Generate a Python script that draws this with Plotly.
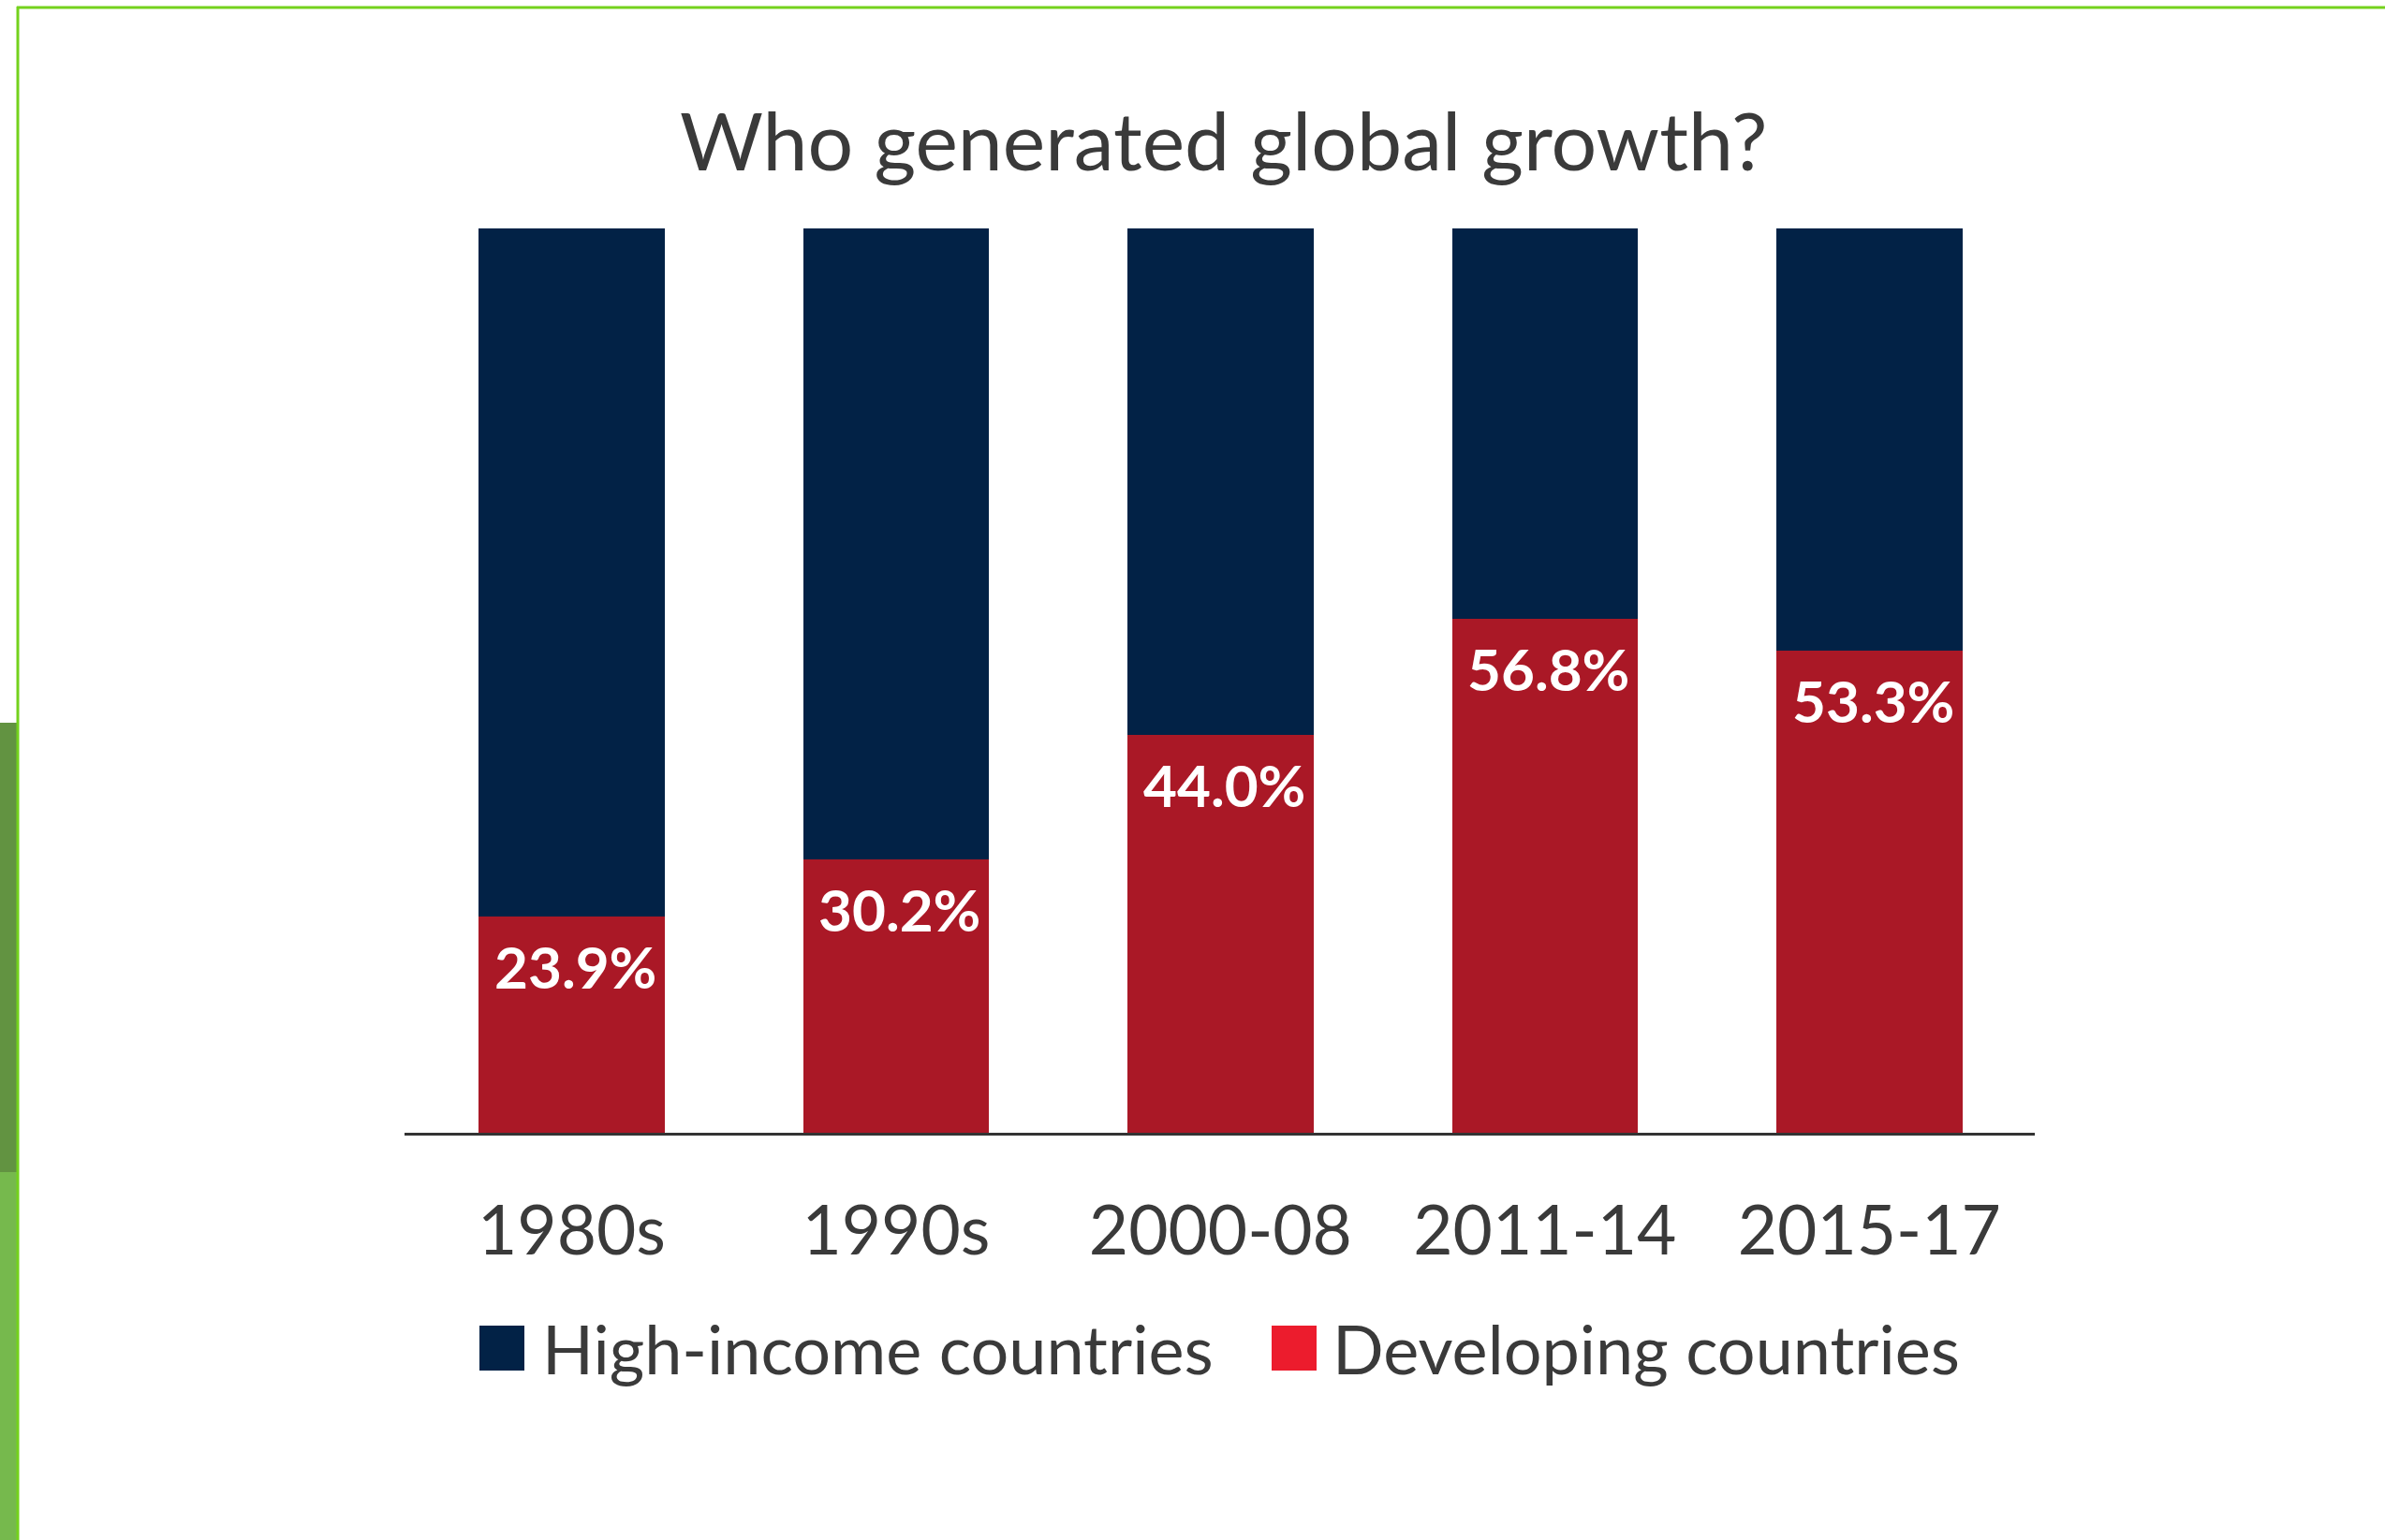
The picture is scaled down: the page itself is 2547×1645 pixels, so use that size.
import plotly.graph_objects as go

# Share of global growth by period (percent)
periods = ["1980s", "1990s", "2000-08", "2011-14", "2015-17"]
developing = [23.9, 30.2, 44.0, 56.8, 53.3]
high_income = [round(100 - v, 1) for v in developing]
series_names = ["High-income countries", "Developing countries"]
title_text = "Who generated global growth?"

NAVY = "#022246"
RED = "#AA1826"
RED_KEY = "#EC1C2D"
TEXT = "#3a3a3a"
FONT = "Lato, 'Open Sans', sans-serif"

W, H = 2547, 1645
L, R, T, B = 432, 374, 244, 435
plot_w = W - L - R
plot_h = H - T - B


def px_x(p):
    """Pixel column -> paper x."""
    return (p - L) / plot_w


def px_y(p):
    """Pixel row -> paper y."""
    return (H - B - p) / plot_h


fig = go.Figure()
fig.add_trace(go.Bar(
    x=periods, y=developing, name=series_names[1],
    marker=dict(color=RED, line=dict(width=0)),
    showlegend=False, hoverinfo="x+y",
))
fig.add_trace(go.Bar(
    x=periods, y=high_income, name=series_names[0],
    marker=dict(color=NAVY, line=dict(width=0)),
    showlegend=False, hoverinfo="x+y",
))

# value labels just inside the top of each red segment
for p, v in zip(periods, developing):
    fig.add_annotation(
        x=p, y=v, xref="x", yref="y", text=f"{v:.1f}%",
        showarrow=False, yanchor="top", yshift=-14, xshift=4,
        font=dict(family=FONT, size=62, color="white", weight="bold"),
    )

# title
fig.add_annotation(
    x=px_x(1306), y=px_y(148), xref="paper", yref="paper",
    text=title_text, showarrow=False, xanchor="center", yanchor="middle",
    font=dict(family=FONT, size=86, color=TEXT),
)

# custom legend with large square keys
legend_items = [
    (series_names[0], NAVY, 512, 577),
    (series_names[1], RED_KEY, 1358, 1421),
]
shapes = []
for name, col, sq_x, txt_x in legend_items:
    shapes.append(dict(
        type="rect", xref="paper", yref="paper",
        x0=px_x(sq_x), x1=px_x(sq_x + 48), y0=px_y(1464), y1=px_y(1416),
        fillcolor=col, line=dict(width=0),
    ))
    fig.add_annotation(
        x=px_x(txt_x), y=px_y(1440), xref="paper", yref="paper",
        text=name, showarrow=False, xanchor="left", yanchor="middle",
        font=dict(family=FONT, size=72, color=TEXT),
    )

# green frame and the strip of background beside it
GREEN = "#74D21C"
shapes += [
    dict(type="rect", xref="paper", yref="paper", layer="below",
         x0=px_x(0), x1=px_x(18), y0=px_y(772), y1=px_y(1252),
         fillcolor="#629341", line=dict(width=0)),
    dict(type="rect", xref="paper", yref="paper", layer="below",
         x0=px_x(0), x1=px_x(18), y0=px_y(1252), y1=px_y(1645),
         fillcolor="#76B94D", line=dict(width=0)),
    dict(type="line", xref="paper", yref="paper",
         x0=px_x(18), x1=px_x(2547), y0=px_y(8), y1=px_y(8),
         line=dict(color=GREEN, width=3)),
    dict(type="line", xref="paper", yref="paper",
         x0=px_x(19), x1=px_x(19), y0=px_y(7), y1=px_y(1645),
         line=dict(color=GREEN, width=3)),
]

fig.update_layout(
    width=W, height=H,
    margin=dict(l=L, r=R, t=T, b=B, pad=0),
    barmode="stack", bargap=0.427,
    paper_bgcolor="white", plot_bgcolor="white",
    shapes=shapes,
    showlegend=False,
    font=dict(family=FONT, color=TEXT),
    xaxis=dict(
        type="category", range=[-0.515, 4.51],
        showline=True, linecolor="#333333", linewidth=3,
        showgrid=False, zeroline=False, ticks="",
        tickfont=dict(family=FONT, size=73, color=TEXT),
        ticklabelstandoff=39,
    ),
    yaxis=dict(
        range=[0, 100], visible=False, showgrid=False, zeroline=False,
    ),
)

fig.write_html("out.html")
